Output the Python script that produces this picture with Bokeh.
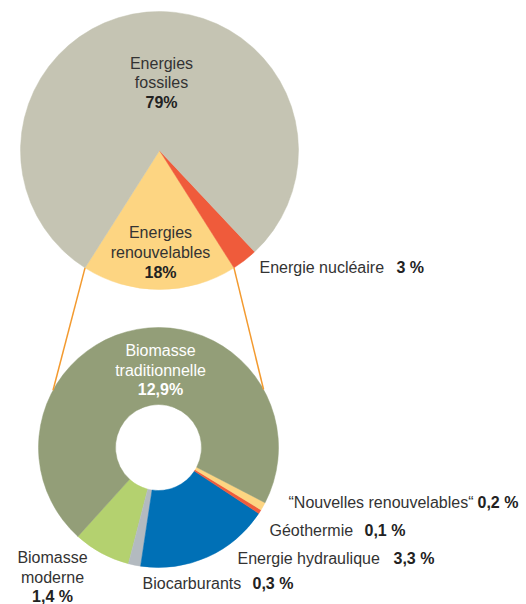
import numpy as np
from bokeh.plotting import figure
from bokeh.models import Range1d
from bokeh.core.properties import value
from bokeh.embed import file_html
from bokeh.resources import INLINE

# ---- data ----
top_labels = ["Energies renouvelables", "Energie nucléaire", "Energies fossiles"]
top_values = [18, 3, 79]
top_value_text = ["18%", "3 %", "79%"]
top_colors = ["#FDD582", "#EF5B3B", "#C5C4B3"]

bot_labels = ["Biomasse moderne", "Biocarburants", "Energie hydraulique",
              "Géothermie", "\u201cNouvelles renouvelables\u201c", "Biomasse traditionnelle"]
bot_values = [1.4, 0.3, 3.3, 0.1, 0.2, 12.9]
bot_value_text = ["1,4 %", "0,3 %", "3,3 %", "0,1 %", "0,2 %", "12,9%"]
bot_colors = ["#B4D16F", "#B3BAC0", "#0070B6", "#EF5B3B", "#FDD582", "#939E78"]

W, H = 526, 604
FONT = value("Liberation Sans")
TXT = "#333333"
BOLD = "#222222"

def sy(y):
    # screen y (reference image) -> data y
    return H - y

p = figure(width=W, height=H, output_backend="svg", toolbar_location=None,
           x_range=Range1d(0, W), y_range=Range1d(0, H),
           x_axis_location=None, y_axis_location=None, min_border=0)
p.grid.visible = False
p.outline_line_color = None
p.background_fill_color = "white"

# ---- top pie ----
tcx, tcy, tr = 159, sy(150), 139
tv = np.array(top_values, dtype=float)
tang = tv / tv.sum() * 2 * np.pi
t0 = 1.5 * np.pi - tang[0] / 2
tstart = t0 + np.concatenate([[0], np.cumsum(tang)[:-1]])
tend = tstart + tang
p.wedge(x=tcx, y=tcy, radius=tr, start_angle=tstart, end_angle=tend,
        fill_color=top_colors, line_color=top_colors, line_width=0.5)

# ---- donut ----
bcx, bcy, br, bri = 158, sy(447), 120, 43
bv = np.array(bot_values, dtype=float)
bang = bv / bv.sum() * 2 * np.pi
b0 = np.deg2rad(227.8)
bstart = b0 + np.concatenate([[0], np.cumsum(bang)[:-1]])
bend = bstart + bang
p.annular_wedge(x=bcx, y=bcy, inner_radius=bri, outer_radius=br,
                start_angle=bstart, end_angle=bend,
                fill_color=bot_colors, line_color=bot_colors, line_width=0.5)

# ---- connector lines ----
a_left, a_right = tstart[0], tend[0]
d_left, d_right = np.deg2rad(151.5), np.deg2rad(28.9)
xs = [[tcx + tr * np.cos(a_left), bcx + br * np.cos(d_left)],
      [tcx + tr * np.cos(a_right), bcx + br * np.cos(d_right)]]
ys = [[tcy + tr * np.sin(a_left), bcy + br * np.sin(d_left)],
      [tcy + tr * np.sin(a_right), bcy + br * np.sin(d_right)]]
p.multi_line(xs=xs, ys=ys, line_color="#F39A2F", line_width=1.5)

def txt(x, y, s, bold=False, align="center", color=None):
    p.text(x=[x], y=[sy(y)], text=[s], text_font=FONT, text_font_size="16px",
           text_align=align, text_baseline="middle",
           text_font_style="bold" if bold else "normal",
           text_color=color or (BOLD if bold else TXT))

# top labels
w1 = top_labels[2].split(" ")
txt(161, 63, w1[0]); txt(161, 82, w1[1]); txt(161, 102, top_value_text[2], bold=True)
w0 = top_labels[0].split(" ")
txt(160, 232, w0[0]); txt(160, 252, w0[1]); txt(160, 272, top_value_text[0], bold=True)
txt(259, 267, top_labels[1], align="left"); txt(396, 267, top_value_text[1], bold=True, align="left")

# donut labels
w5 = bot_labels[5].split(" ")
txt(160, 350, w5[0], color="white"); txt(160, 370, w5[1], color="white")
txt(160, 389, bot_value_text[5], bold=True, color="white")

w0 = bot_labels[0].split(" ")
txt(52, 557, w0[0]); txt(52, 577, w0[1]); txt(52, 596, bot_value_text[0], bold=True)

txt(142, 583, bot_labels[1], align="left"); txt(252, 583, bot_value_text[1], bold=True, align="left")
txt(237, 558, bot_labels[2], align="left"); txt(393, 558, bot_value_text[2], bold=True, align="left")
txt(269, 530, bot_labels[3], align="left"); txt(364, 530, bot_value_text[3], bold=True, align="left")
txt(288, 502, bot_labels[4], align="left"); txt(477, 502, bot_value_text[4], bold=True, align="left")

open("out.html", "w").write(file_html(p, INLINE))
